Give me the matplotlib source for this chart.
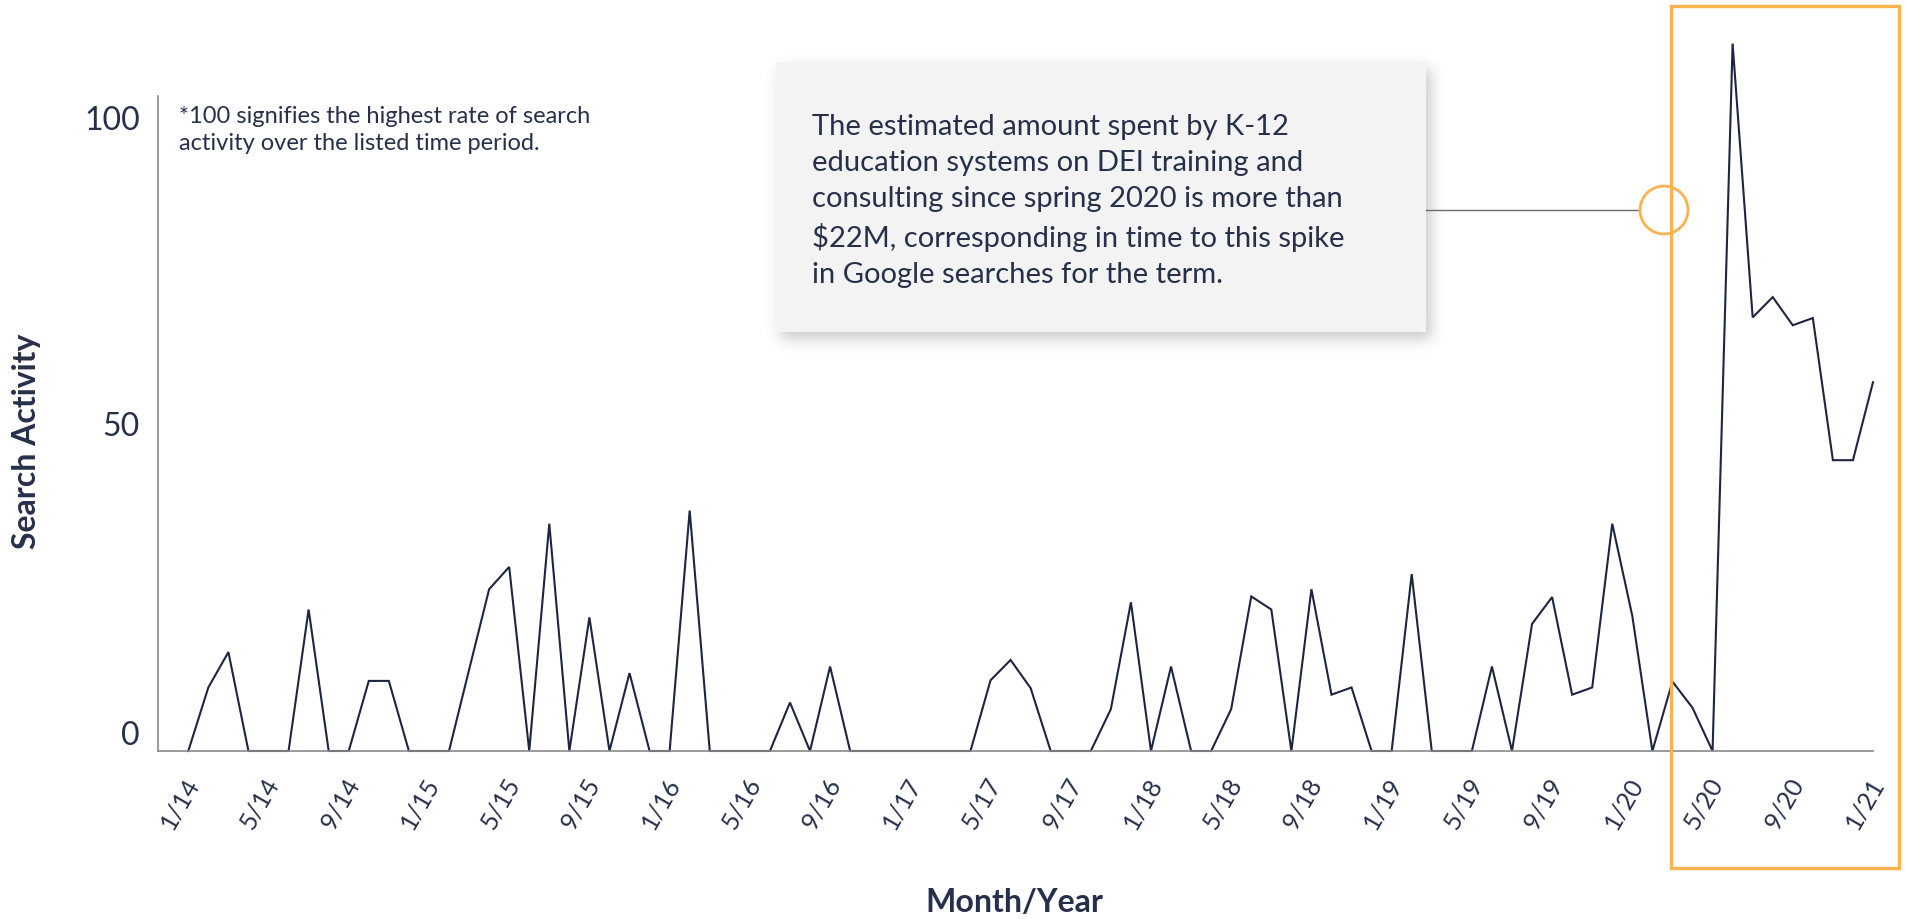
import numpy as np
import matplotlib
matplotlib.use("Agg")
import matplotlib.pyplot as plt
from matplotlib import patches, transforms

# Monthly search interest, Jan 2014 through Jan 2021
search_activity = [
    0, 9.7, 15.1, 0, 0, 0, 21.6, 0, 0, 10.7,
    10.7, 0, 0, 0, 12.4, 24.7, 28.1, 0, 34.7, 0,
    20.4, 0, 11.9, 0, 0, 36.7, 0, 0, 0, 0,
    7.4, 0, 12.9, 0, 0, 0, 0, 0, 0, 0,
    10.8, 13.9, 9.6, 0, 0, 0, 6.4, 22.7, 0, 12.9,
    0, 0, 6.4, 23.6, 21.6, 0, 24.7, 8.6, 9.7, 0,
    0, 27.0, 0, 0, 0, 12.9, 0, 19.4, 23.5, 8.6,
    9.7, 34.7, 20.6, 0, 10.6, 6.6, 0, 108.0, 66.2, 69.3,
    65.0, 66.1, 44.4, 44.4, 56.3,
]
month_labels = [
    "1/14", "5/14", "9/14", "1/15", "5/15", "9/15", "1/16", "5/16",
    "9/16", "1/17", "5/17", "9/17", "1/18", "5/18", "9/18", "1/19",
    "5/19", "9/19", "1/20", "5/20", "9/20", "1/21",
]
y_ticks = [0, 50, 100]
y_tick_labels = ["0", "50", "100"]

note_text = ("*100 signifies the highest rate of search\n"
             "activity over the listed time period.")
callout_text = ("The estimated amount spent by K-12\n"
                "education systems on DEI training and\n"
                "consulting since spring 2020 is more than\n"
                "$22M, corresponding in time to this spike\n"
                "in Google searches for the term.")

W, H = 1906, 920
NAVY = "#1d2541"
TEXT = "#27304a"
ORANGE = "#fdb24f"
GRID = "#8a8a8a"

plt.rcParams["font.family"] = ["Lato", "DejaVu Sans"]

fig = plt.figure(figsize=(W / 100, H / 100), dpi=100, facecolor="white")


def fx(px):
    return px / W


def fy(py):
    return 1 - py / H


# main plotting area
ax = fig.add_axes([fx(158), fy(752), (1873 - 158) / W, (752 - 97) / H], zorder=1)
ax.set_facecolor("none")
x = np.arange(len(search_activity))
ax.plot(x, search_activity, color=NAVY, lw=1.5, clip_on=False, solid_joinstyle="miter")
ax.set_xlim(-1.51, 84.0)
ax.set_ylim(0, 100)

for side in ("top", "right"):
    ax.spines[side].set_visible(False)
for side in ("left", "bottom"):
    ax.spines[side].set_color(GRID)
    ax.spines[side].set_linewidth(1.2)

ax.set_xticks(x[::4])
ax.set_xticklabels(month_labels, rotation=60, ha="right", va="center",
                   rotation_mode="anchor", fontsize=18, color=TEXT)
ax.tick_params(axis="x", length=0, pad=20)
for lab in ax.get_xticklabels():
    lab.set_transform(lab.get_transform() +
                      transforms.ScaledTranslation(0.05, 0, fig.dpi_scale_trans))

ax.set_yticks(y_ticks)
ax.set_yticklabels(y_tick_labels, fontsize=23, color=TEXT)
ax.tick_params(axis="y", length=0, pad=13)
y_shift = {"0": 0.19, "50": 0.0, "100": -0.21}
for lab, txt in zip(ax.get_yticklabels(), y_tick_labels):
    lab.set_transform(lab.get_transform() +
                      transforms.ScaledTranslation(0, y_shift[txt], fig.dpi_scale_trans))

fig.text(fx(27), fy(441), "Search Activity", rotation=90, ha="center", va="center",
         fontsize=23, fontweight="bold", color=TEXT)
fig.text(fx(1014), fy(903), "Month/Year", ha="center", va="center",
         fontsize=23, fontweight="bold", color=TEXT)

fig.text(fx(179), fy(130), note_text, ha="left", va="center", fontsize=17,
         color=TEXT, linespacing=1.4, zorder=4)

# callout box with soft drop shadow
bx0, bx1, by0, by1 = 776, 1426, 63, 333
pad = 40
rx0, rx1, ry0, ry1 = bx0 - pad, bx1 + pad, by0 - pad, by1 + pad
mask = np.zeros((ry1 - ry0, rx1 - rx0))
off_x, off_y = 5, 7
mask[by0 - ry0 + off_y:by1 - ry0 + off_y, bx0 - rx0 + off_x:bx1 - rx0 + off_x] = 1.0
sig = 7.0
kx = np.arange(-25, 26)
kern = np.exp(-kx ** 2 / (2 * sig ** 2))
kern /= kern.sum()
mask = np.apply_along_axis(lambda r: np.convolve(r, kern, mode="same"), 1, mask)
mask = np.apply_along_axis(lambda c: np.convolve(c, kern, mode="same"), 0, mask)
shadow = np.zeros(mask.shape + (4,))
shadow[..., :3] = 0.45
shadow[..., 3] = mask * 0.38
fig.figimage(shadow, xo=rx0, yo=H - ry1, origin="upper", zorder=2)

fig.add_artist(patches.Rectangle((fx(bx0), fy(by1)), (bx1 - bx0) / W, (by1 - by0) / H,
                                 transform=fig.transFigure, facecolor="#f3f3f3",
                                 edgecolor="none", zorder=3))
fig.text(fx(812), fy(201), callout_text, ha="left", va="center", fontsize=21,
         color=TEXT, linespacing=1.47, zorder=4)

# connector to the highlight circle
fig.add_artist(plt.Line2D([fx(bx1), fx(1640)], [fy(211), fy(211)],
                          transform=fig.transFigure, color="#6b6b6b", lw=1.0, zorder=4))
fig.add_artist(patches.Ellipse((fx(1664), fy(211)), 48 / W, 48 / H,
                               transform=fig.transFigure, facecolor="none",
                               edgecolor=ORANGE, lw=2.0, zorder=5))

# highlight frame around the 2020 surge
fig.add_artist(patches.Rectangle((fx(1671), fy(869)), (1899 - 1671) / W, (869 - 7) / H,
                                 transform=fig.transFigure, facecolor="none",
                                 edgecolor=ORANGE, lw=2.4, zorder=5))

fig.savefig("out.png", dpi=100, facecolor="white")
